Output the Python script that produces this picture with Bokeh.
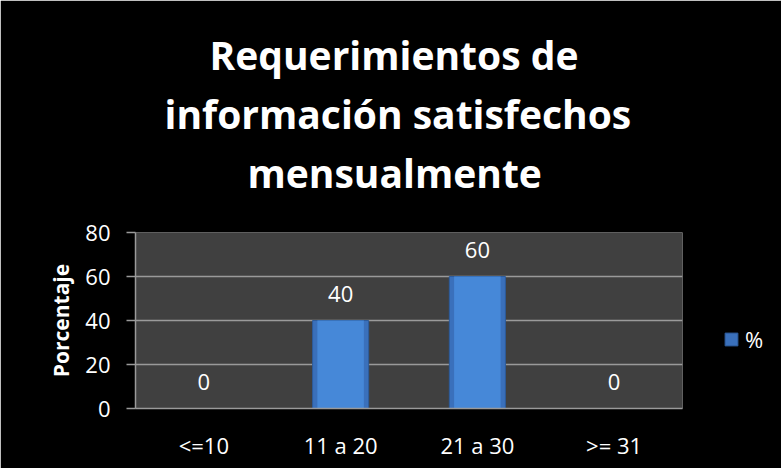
from bokeh.plotting import figure
from bokeh.models import Legend, LegendItem, ColumnDataSource, Range1d, FactorRange, FixedTicker, Title
from bokeh.core.properties import value
from bokeh.embed import file_html
from bokeh.resources import INLINE

categories = ["<=10", "11 a 20", "21 a 30", ">= 31"]
values = [0, 40, 60, 0]
value_labels = ["0", "40", "60", "0"]
title_lines = ["Requerimientos de", "información satisfechos", "mensualmente"]
y_ticks = [0, 20, 40, 60, 80]
series_name = "%"
y_axis_title = "Porcentaje"

FONT = "Open Sans"

src = ColumnDataSource(dict(cat=categories, val=values, lab=value_labels))

p = figure(x_range=FactorRange(*categories), y_range=Range1d(0, 80),
           frame_width=547, frame_height=176, output_backend="svg", toolbar_location=None,
           min_border_left=135, min_border_right=91, min_border_top=232, min_border_bottom=60)

p.background_fill_color = "#404040"
p.border_fill_color = "black"
p.outline_line_color = None

outer = p.vbar(x="cat", top="val", bottom=0, width=0.41, source=src,
               fill_color="#3a70bb", line_color="#2d5c9c", line_width=1)
p.vbar(x="cat", top="val", bottom=0, width=0.34, source=src,
       fill_color="#4688d8", line_color=None)

p.text(x="cat", y="val", text="lab", source=src, text_align="center",
       text_baseline="alphabetic", y_offset=-27, text_color="white",
       text_font=value(FONT), text_font_size="22px")

# grid
p.xgrid.visible = False
p.ygrid.grid_line_color = "#9a9a9a"
p.ygrid.grid_line_width = 1.5
p.yaxis.ticker = FixedTicker(ticks=y_ticks)

# y axis
p.yaxis.axis_line_color = "#9a9a9a"
p.yaxis.axis_line_width = 1.5
p.yaxis.major_tick_line_color = "#9a9a9a"
p.yaxis.major_tick_line_width = 1.5
p.yaxis.major_tick_out = 9
p.yaxis.major_tick_in = 0
p.yaxis.minor_tick_line_color = None
p.yaxis.major_label_standoff = 16
p.yaxis.major_label_text_color = "white"
p.yaxis.major_label_text_font = FONT
p.yaxis.major_label_text_font_size = "22px"
p.yaxis.axis_label = y_axis_title
p.yaxis.axis_label_text_color = "white"
p.yaxis.axis_label_text_font = FONT
p.yaxis.axis_label_text_font_style = "bold"
p.yaxis.axis_label_text_font_size = "21px"
p.yaxis.axis_label_standoff = 7

# x axis
p.xaxis.axis_line_color = "#9a9a9a"
p.xaxis.axis_line_width = 1.5
p.xaxis.major_tick_line_color = None
p.xaxis.major_tick_out = 0
p.xaxis.major_tick_in = 0
p.xaxis.minor_tick_line_color = None
p.xaxis.major_label_standoff = 21
p.xaxis.major_label_text_color = "white"
p.xaxis.major_label_text_font = FONT
p.xaxis.major_label_text_font_size = "22px"

# blank spacer between the plot and the title block
p.add_layout(Title(text=" ", text_font=FONT, text_font_style="bold",
                   text_font_size="39px", standoff=-23), "above")

# title lines: added bottom-up (later titles are placed further from the plot)
title_offsets = [74, 29, 112]      # left offsets that centre each line over the chart
for line, off in reversed(list(zip(title_lines, title_offsets))):
    p.add_layout(Title(text=line, align="left", offset=off,
                       text_color="white", text_font=FONT, text_font_style="bold",
                       text_font_size="39px", standoff=4), "above")

legend = Legend(items=[LegendItem(label=series_name, renderers=[outer])],
                location=(41, 54), background_fill_alpha=0, border_line_color=None,
                label_text_color="white", label_text_font=FONT, label_text_font_size="22px",
                glyph_width=16, glyph_height=16, label_standoff=6, padding=0, margin=0)
p.add_layout(legend, "right")

open("out.html", "w").write(file_html(p, INLINE))
